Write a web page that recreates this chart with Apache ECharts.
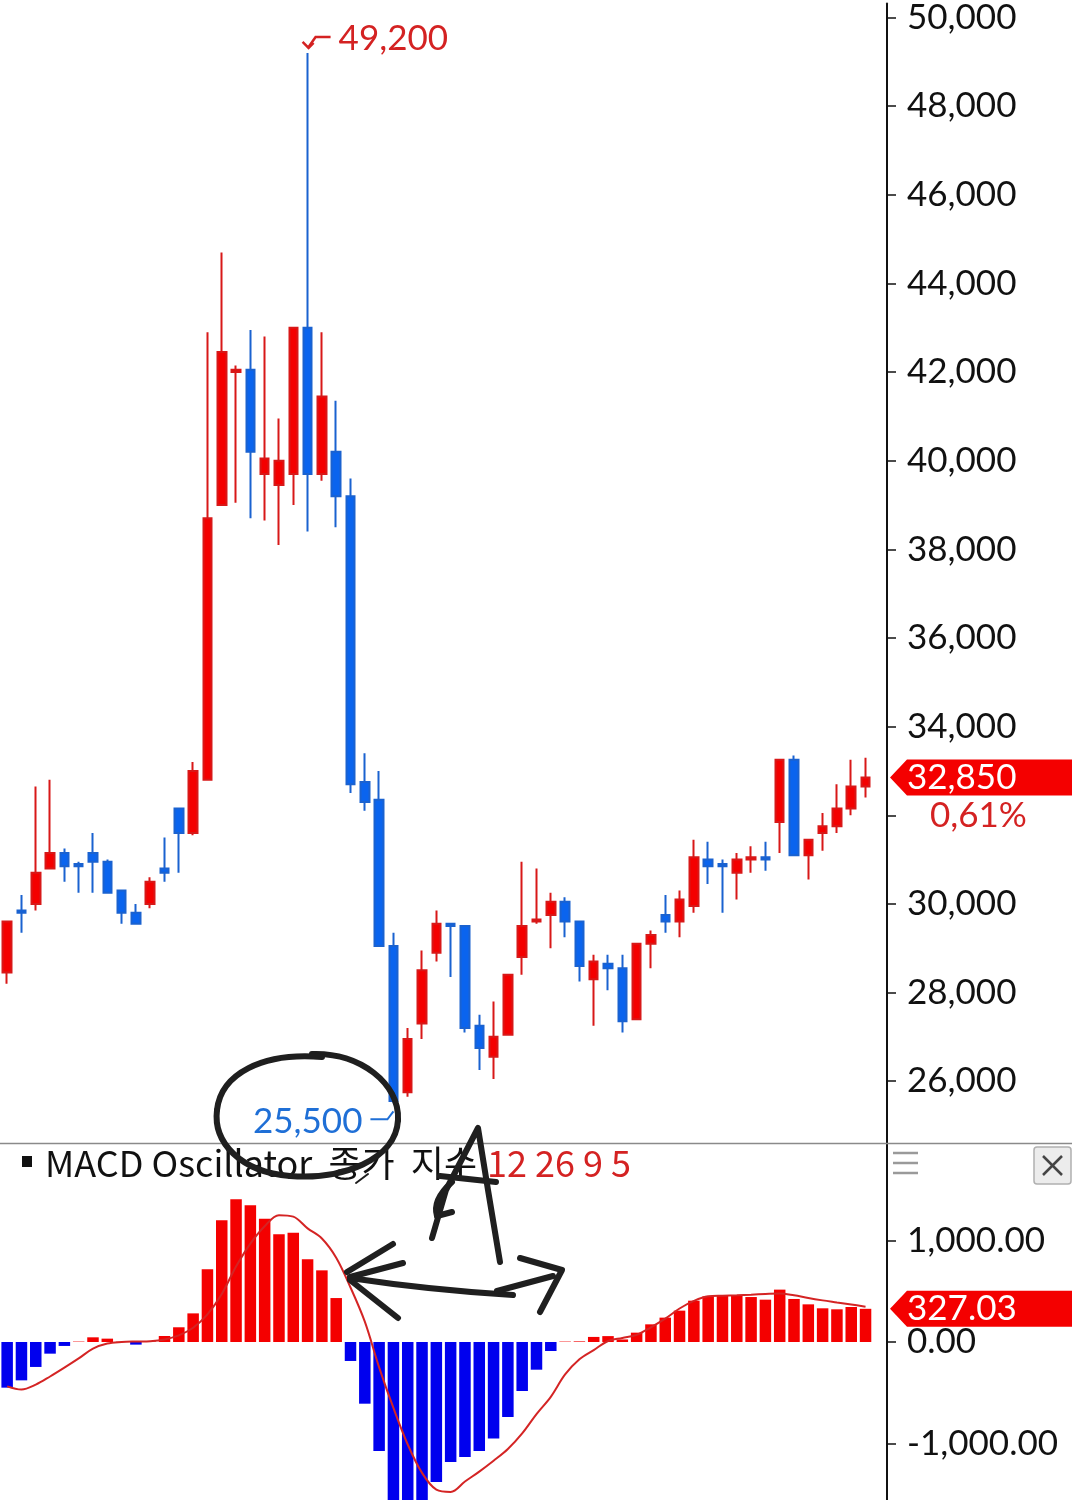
<!DOCTYPE html>
<html><head><meta charset="utf-8">
<script src="https://cdn.jsdelivr.net/npm/echarts@6/dist/echarts.min.js"></script>
<style>html,body{margin:0;padding:0;background:#fff}#c{width:1072px;height:1500px}</style>
</head><body><div id="c"></div>
<script>
// ---- data ----
const categories = ['1','2','3','4','5','6','7','8','9','10','11','12','13','14','15','16','17','18','19','20',
  '21','22','23','24','25','26','27','28','29','30','31','32','33','34','35','36','37','38','39','40',
  '41','42','43','44','45','46','47','48','49','50','51','52','53','54','55','56','57','58','59','60','61',''];
const opens = [28450,29850,30000,30800,31150,30900,31150,30950,30300,29800,30000,30800,32150,31600,32800,39000,42000,42050,39700,39450,
  39700,43000,39700,40200,39200,32750,32350,29050,25750,27300,28900,29550,29500,27250,26550,27050,28800,29600,29750,30050,
  29600,28300,28650,28550,27400,29100,29750,29600,29950,31000,30900,30700,31000,31050,31850,33250,31100,31600,31750,32150,32650];
const closes = [29600,29800,30700,31150,30850,30850,30950,30250,29800,29550,30500,30700,31600,33000,38700,42450,42050,40200,40050,40000,
  43000,39700,41450,39200,32700,32300,29050,25550,26950,28500,29550,29500,27200,26750,27000,28400,29500,29650,30050,29600,
  28600,28700,28550,27350,29100,29300,29600,30100,31050,30850,30850,31000,31050,31000,33250,31100,31450,31750,32150,32650,32850];
const lows = [28200,29350,29850,30800,30500,30250,30250,30250,29550,29550,29900,30500,30700,31550,32800,39000,39050,38700,38650,38100,
  39000,38400,39550,38500,32500,32100,29050,25500,25650,26950,28700,28350,27100,26250,26050,27050,28400,29550,29000,29250,
  28250,27250,28050,27100,27400,28550,29350,29250,29800,30450,29800,30100,30700,30750,31150,31100,30550,31200,31600,32000,32400];
const highs = [29600,30200,32650,32800,31250,30950,31600,31000,30300,30000,30600,31500,32150,33200,42900,44700,42150,42950,42800,40950,
  43000,49200,42900,41350,39600,33400,33000,29350,27200,28950,29850,29550,29500,27500,27800,28400,30950,30800,30250,30150,
  29600,28850,28850,28850,29100,29400,30200,30300,31450,31400,31000,31150,31300,31400,33250,33350,31450,32050,32700,33250,33300];
const oscValues = [-450,-378,-246,-115,-39,4,46,33,3,-26,6,59,145,282,716,1199,1406,1347,1215,1061,
  1077,815,706,433,-187,-608,-1074,-1560,-1560,-1560,-1379,-1182,-1133,-1074,-952,-739,-483,-273,-89,4,
  6,50,58,25,92,174,240,309,407,450,456,456,443,417,516,424,371,332,322,345,327.03];
const signalValues = [-437,-468,-420,-340,-253,-162,-65,-15,0,5,8,25,65,140,272,473,744,970,1141,1250,
  1235,1120,1020,830,537,200,-250,-650,-1010,-1290,-1455,-1478,-1375,-1277,-1170,-1054,-900,-710,-540,-320,
  -170,-80,10,40,70,145,230,330,405,450,456,460,466,473,478,460,433,410,390,370,348];
const priceTicks = [26000,28000,30000,32000,34000,36000,38000,40000,42000,44000,46000,48000,50000];
const macdTicks = [-1000,0,1000];
const macdTitle = 'MACD Oscillator  종가  지수';
const macdParams = '12 26 9 5';

// ---- styles ----
const RED = '#f40000', RED_W = '#d81818', BLUE = '#0a64ee', BLUE_W = '#1a62d0';
const TXT_RED = '#d42222', TXT_BLUE = '#1f6fd6';
const fmtPrice = v => Number(v).toLocaleString('en-US');
const fmtMacd = v => Number(v).toLocaleString('en-US', {minimumFractionDigits: 2, maximumFractionDigits: 2});

const chart = echarts.init(document.getElementById('c'), null, {renderer: 'canvas'});
const axisCommon = {
  position: 'right',
  splitLine: {show: false},
  axisLine: {show: true, lineStyle: {color: '#111', width: 2}},
};
const option = {
  animation: false,
  backgroundColor: '#fff',
  grid: [
    {left: -2.2, right: 185, top: 0, height: 1143},
    {left: -2.2, right: 185, top: 1144, height: 356}
  ],
  xAxis: [
    {type: 'category', gridIndex: 0, data: categories, show: false},
    {type: 'category', gridIndex: 1, data: categories, show: false}
  ],
  yAxis: [
    Object.assign({}, axisCommon, {
      gridIndex: 0, min: 24605, max: 50315,
      axisTick: {show: true, length: 9, lineStyle: {color: '#111', width: 1.5}, customValues: priceTicks},
      axisLabel: {customValues: priceTicks, margin: 20, fontFamily: 'Lato', fontSize: 35, color: '#111', formatter: fmtPrice}
    }),
    Object.assign({}, axisCommon, {
      gridIndex: 1, min: -1557, max: 1951,
      axisTick: {show: true, length: 9, lineStyle: {color: '#111', width: 1.5}, customValues: macdTicks},
      axisLabel: {customValues: macdTicks, margin: 20, fontFamily: 'Lato', fontSize: 35, color: '#111', formatter: fmtMacd}
    })
  ],
  series: [
    {
      type: 'candlestick', xAxisIndex: 0, yAxisIndex: 0, barWidth: 9,
      data: opens.map((o, i) => [o, closes[i], lows[i], highs[i]]),
      itemStyle: {color: RED, color0: BLUE, borderColor: RED_W, borderColor0: BLUE_W, borderWidth: 2}
    },
    {
      type: 'bar', xAxisIndex: 1, yAxisIndex: 1, barWidth: 11.5, data: oscValues,
      itemStyle: {color: p => (p.value >= 0 ? '#f40000' : '#0000ee')}
    },
    {
      type: 'line', xAxisIndex: 1, yAxisIndex: 1, data: signalValues, smooth: 0.35, symbol: 'none',
      lineStyle: {color: '#d42424', width: 2}
    }
  ]
};
chart.setOption(option);

// ---- overlay annotations positioned through the chart's scales ----
const n = closes.length;
const lastIdx = n - 1;
let hiIdx = 0, loIdx = 0;
highs.forEach((v, i) => { if (v > highs[hiIdx]) hiIdx = i; });
lows.forEach((v, i) => { if (v < lows[loIdx]) loIdx = i; });
const hp = chart.convertToPixel({xAxisIndex: 0, yAxisIndex: 0}, [hiIdx, highs[hiIdx]]);
const lp = chart.convertToPixel({xAxisIndex: 0, yAxisIndex: 0}, [loIdx, lows[loIdx]]);
const cp = chart.convertToPixel({xAxisIndex: 0, yAxisIndex: 0}, [lastIdx, closes[lastIdx]]);
const mp = chart.convertToPixel({xAxisIndex: 1, yAxisIndex: 1}, [lastIdx, oscValues[lastIdx]]);
const axisX = 887;
const pct = (closes[lastIdx] - closes[lastIdx - 1]) / closes[lastIdx - 1] * 100;
const pctText = pct.toFixed(2).replace('.', ',') + '%';

function marker(y, text) {
  return [
    {type: 'polygon', z: 50, shape: {points: [[axisX + 3, y], [axisX + 20, y - 18], [1072, y - 18], [1072, y + 18], [axisX + 20, y + 18]]},
      style: {fill: '#f40000'}},
    {type: 'text', z: 51, x: axisX + 20, y: y, style: {text: text, fill: '#fff', font: '35px Lato', textAlign: 'left', textVerticalAlign: 'middle'}}
  ];
}
const ink = {stroke: '#1f1f1f', lineWidth: 6, lineCap: 'round', lineJoin: 'round', fill: null};
function bez(x1, y1, c1x, c1y, c2x, c2y, x2, y2, w) {
  return {type: 'bezierCurve', z: 60, shape: {x1: x1, y1: y1, cpx1: c1x, cpy1: c1y, cpx2: c2x, cpy2: c2y, x2: x2, y2: y2},
    style: Object.assign({}, ink, w ? {lineWidth: w} : {})};
}
function quad(x1, y1, cx, cy, x2, y2, w) {
  return {type: 'bezierCurve', z: 60, shape: {x1: x1, y1: y1, cpx1: cx, cpy1: cy, x2: x2, y2: y2},
    style: Object.assign({}, ink, w ? {lineWidth: w} : {})};
}
function stroke(points, w) {
  return {type: 'polyline', z: 60, shape: {points: points}, style: Object.assign({}, ink, w ? {lineWidth: w} : {})};
}
const graphics = [
  // panel separator
  {type: 'line', z: 40, shape: {x1: 0, y1: 1143.5, x2: 1072, y2: 1143.5}, style: {stroke: '#8a8a8a', lineWidth: 1.5}},
  // header
  {type: 'rect', z: 40, shape: {x: 22, y: 1156, width: 10, height: 11}, style: {fill: '#111'}},
  {type: 'text', z: 40, x: 45, y: 1163, style: {text: macdTitle, fill: '#111', font: '36px "Noto Sans CJK KR"', textVerticalAlign: 'middle'}},
  {type: 'text', z: 40, x: 487, y: 1163, style: {text: macdParams, fill: TXT_RED, font: '36px "Noto Sans CJK KR"', textVerticalAlign: 'middle'}},
  // hamburger + close
  {type: 'line', z: 40, shape: {x1: 893, y1: 1153, x2: 918, y2: 1153}, style: {stroke: '#9a9a9a', lineWidth: 2.5}},
  {type: 'line', z: 40, shape: {x1: 893, y1: 1163, x2: 918, y2: 1163}, style: {stroke: '#9a9a9a', lineWidth: 2.5}},
  {type: 'line', z: 40, shape: {x1: 893, y1: 1173, x2: 918, y2: 1173}, style: {stroke: '#9a9a9a', lineWidth: 2.5}},
  {type: 'rect', z: 40, shape: {x: 1034, y: 1147, width: 37, height: 37, r: 3}, style: {fill: '#ececec', stroke: '#b0b0b0', lineWidth: 1.5}},
  {type: 'line', z: 41, shape: {x1: 1043, y1: 1156, x2: 1062, y2: 1175}, style: {stroke: '#444', lineWidth: 2.5}},
  {type: 'line', z: 41, shape: {x1: 1062, y1: 1156, x2: 1043, y2: 1175}, style: {stroke: '#444', lineWidth: 2.5}},
  // high label
  {type: 'text', z: 40, x: hp[0] + 31, y: hp[1] - 14, style: {text: fmtPrice(highs[hiIdx]), fill: TXT_RED, font: '35px Lato', textVerticalAlign: 'middle'}},
  {type: 'polyline', z: 40, shape: {points: [[hp[0] + 23, hp[1] - 16], [hp[0] + 8, hp[1] - 16], [hp[0] + 1, hp[1] - 6]]}, style: {stroke: TXT_RED, lineWidth: 2.5, fill: null}},
  {type: 'polyline', z: 40, shape: {points: [[hp[0] - 5, hp[1] - 11], [hp[0] + 1, hp[1] - 5], [hp[0] + 6, hp[1] - 10]]}, style: {stroke: TXT_RED, lineWidth: 2.5, fill: null}},
  // low label
  {type: 'text', z: 40, x: lp[0] - 31, y: lp[1] + 18, style: {text: fmtPrice(lows[loIdx]), fill: TXT_BLUE, font: '35px Lato', textAlign: 'right', textVerticalAlign: 'middle'}},
  {type: 'polyline', z: 40, shape: {points: [[lp[0] - 23, lp[1] + 16], [lp[0] - 6, lp[1] + 16], [lp[0], lp[1] + 8]]}, style: {stroke: TXT_BLUE, lineWidth: 2, fill: null}},
  // change % (covers the axis label beneath, as in the source app)
  {type: 'rect', z: 45, shape: {x: 898, y: cp[1] + 19, width: 174, height: 40}, style: {fill: '#fff'}},
  {type: 'text', z: 46, x: 930, y: cp[1] + 38, style: {text: pctText, fill: TXT_RED, font: '35px Lato', textVerticalAlign: 'middle'}},
  // hand-drawn annotations: circle
  bez(312, 1054, 360, 1052, 400, 1084, 398, 1120),
  bez(398, 1120, 396, 1160, 342, 1180, 290, 1176),
  bez(290, 1176, 240, 1172, 213, 1142, 217, 1110),
  bez(217, 1110, 221, 1074, 262, 1052, 322, 1057),
  stroke([[356, 1183], [368, 1174]], 2),
  // letter A
  stroke([[432, 1238], [446, 1190], [478, 1128], [488, 1190], [500, 1262]]),
  stroke([[440, 1176], [496, 1182]]),
  quad(452, 1182, 432, 1200, 437, 1216),
  stroke([[437, 1216], [452, 1212]]),
  // double arrow
  stroke([[347, 1272], [393, 1244]]),
  stroke([[350, 1277], [403, 1263]]),
  stroke([[350, 1280], [398, 1318]]),
  quad(350, 1278, 430, 1290, 513, 1295),
  stroke([[497, 1291], [553, 1276]]),
  stroke([[520, 1258], [562, 1270], [540, 1312]])
].concat(marker(cp[1], fmtPrice(closes[lastIdx])), marker(mp[1], fmtMacd(oscValues[lastIdx])));
chart.setOption({graphic: graphics});
</script>
</body></html>
